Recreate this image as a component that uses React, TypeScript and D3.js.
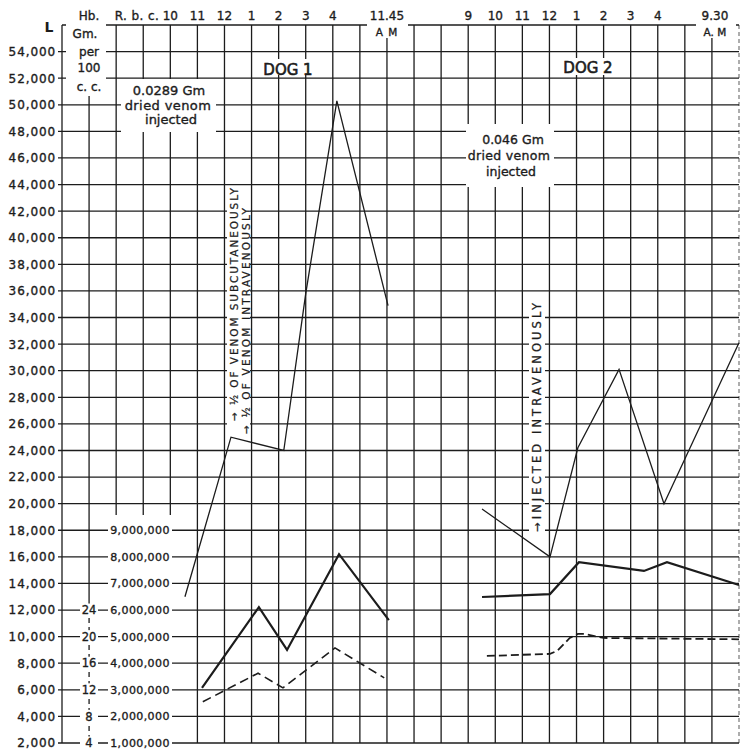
import React from "react";
import * as d3 from "d3";

const W = 740;
const H = 751;

// ---- axis tick values ----
const leukoTicks = [2000, 4000, 6000, 8000, 10000, 12000, 14000, 16000, 18000, 20000, 22000, 24000, 26000, 28000, 30000, 32000, 34000, 36000, 38000, 40000, 42000, 44000, 46000, 48000, 50000, 52000, 54000];
const rbcTicks = [1000000, 2000000, 3000000, 4000000, 5000000, 6000000, 7000000, 8000000, 9000000];
const hbTicks = [4, 8, 12, 16, 20, 24];

// ---- time labels (grid column positions) ----
const dog1Hours = ["10", "11", "12", "1", "2", "3", "4"];
const dog1HourCols = [4, 5, 6, 7, 8, 9, 10];
const dog2Hours = ["9", "10", "11", "12", "1", "2", "3", "4"];
const dog2HourCols = [15, 16, 17, 18, 19, 20, 21, 22];
const nextDayLabels = ["11.45", "9.30"];
const nextDayCols = [12, 24];

// ---- Dog 1 series ----
const dog1LeukoT = [4.54, 6.24, 8.19, 9.0, 10.15, 12.04];
const dog1Leuko = [13000, 25000, 24000, 35800, 50300, 34900];
const dog1RbcT = [5.17, 7.27, 8.31, 10.23, 12.07];
const dog1Rbc = [3070000, 6110000, 4500000, 8100000, 5620000];
const dog1HbT = [5.2, 7.24, 8.16, 10.08, 11.9];
const dog1Hb = [10.2, 14.5, 12.3, 18.3, 13.8];

// ---- Dog 2 series ----
const dog2LeukoT = [15.51, 18.02, 19.05, 20.57, 22.23, 25.0];
const dog2Leuko = [19600, 16000, 24200, 30100, 20000, 32100];
const dog2RbcT = [15.51, 18.02, 19.09, 21.49, 22.34, 25.0];
const dog2Rbc = [6490000, 6600000, 7800000, 7470000, 7800000, 6940000];
const dog2HbT = [15.69, 18.02, 18.3, 18.75, 19.05, 19.3, 20.0, 25.0];
const dog2Hb = [17.1, 17.4, 17.9, 19.8, 20.4, 20.4, 19.8, 19.6];

const FONT = "DejaVu Sans, Verdana, sans-serif";
const INK = "#1c1c1c";

export default function App() {
  const x = d3.scaleLinear().domain([0, 25]).range([62, 739]);
  const y = d3.scaleLinear().domain([2000, 56000]).range([743, 25]);
  const yRbc = d3.scaleLinear().domain([1000000, 9000000]).range([y(2000), y(18000)]);
  const yHb = d3.scaleLinear().domain([4, 24]).range([y(2000), y(12000)]);
  const fmt = d3.format(",");

  const mk = (ts: number[], vs: number[], sc: (v: number) => number) =>
    d3.line<number>().x((_, i) => x(ts[i])).y((v) => sc(v))(vs) || "";

  const cols = d3.range(0, 26);
  const top = y(56000);
  const bottom = y(2000);

  const vLines: JSX.Element[] = [];
  cols.forEach((i) => {
    const xx = x(i);
    if (i === 1) {
      vLines.push(<line key={"v" + i} x1={xx} x2={xx} y1={top} y2={600} />);
      vLines.push(<line key={"vd" + i} x1={xx} x2={xx} y1={600} y2={bottom} strokeDasharray="5,4" />);
    } else if (i >= 2 && i <= 4) {
      vLines.push(<line key={"v" + i} x1={xx} x2={xx} y1={top} y2={515} />);
    } else if (i === 25) {
      vLines.push(<line key={"v" + i} x1={xx} x2={xx} y1={top} y2={bottom} strokeDasharray="4,3" opacity={0.55} />);
    } else {
      vLines.push(<line key={"v" + i} x1={xx} x2={xx} y1={top} y2={bottom} />);
    }
  });

  const textInk = { fill: INK, stroke: INK, strokeWidth: 0.35 };

  return (
    <svg width={W} height={H} style={{ position: "absolute", left: 0, top: 0, background: "#fff" }} fontFamily={FONT}>
      <rect x={0} y={0} width={W} height={H} fill="#fff" />
      {/* grid */}
      <g stroke={INK} strokeWidth={1.3} fill="none">
        {leukoTicks.map((v) => (
          <line key={"h" + v} x1={58} x2={739} y1={y(v)} y2={y(v)} />
        ))}
        <line x1={62} x2={739} y1={top} y2={top} />
        {vLines}
      </g>

      {/* white masks behind labels */}
      <g fill="#fff">
        <rect x={66} y={21} width={40} height={75} />
        <rect x={121} y={79} width={95} height={53} />
        <rect x={466} y={124} width={88} height={63} />
        <rect x={259} y={59} width={58} height={16} />
        <rect x={559} y={58} width={57} height={17} />
        <rect x={367} y={3} width={41} height={35} />
        <rect x={696} y={3} width={40} height={35} />
        <rect x={227} y={186} width={23} height={251} />
        <rect x={529} y={300} width={16} height={236} />
        <rect x={108} y={516} width={64} height={234} />
        {hbTicks.map((v) => (
          <rect key={"hm" + v} x={80} y={yHb(v) - 6.5} width={18} height={13} />
        ))}
      </g>

      {/* left scale labels */}
      <g {...textInk} fontSize={12} textAnchor="end" letterSpacing={0.9}>
        {leukoTicks.map((v) => (
          <text key={"lt" + v} x={56} y={y(v) + 4.4}>
            {fmt(v)}
          </text>
        ))}
      </g>
      <text x={49} y={32} fontSize={14} fontWeight="bold" textAnchor="middle" fill={INK}>
        L
      </text>

      {/* R.b.c. scale */}
      <g {...textInk} fontSize={11} textAnchor="middle" letterSpacing={0.4}>
        {rbcTicks.map((v) => (
          <text key={"rt" + v} x={140} y={yRbc(v) + 4}>
            {fmt(v)}
          </text>
        ))}
      </g>
      {/* Hb scale */}
      <g {...textInk} fontSize={11.5} textAnchor="middle">
        {hbTicks.map((v) => (
          <text key={"ht" + v} x={89} y={yHb(v) + 4.2}>
            {v}
          </text>
        ))}
      </g>

      {/* header */}
      <g {...textInk} fontSize={12} textAnchor="middle">
        <text x={89} y={20}>Hb.</text>
        <text x={137} y={20} letterSpacing={0.4}>R. b. c.</text>
        {dog1Hours.map((h, i) => (
          <text key={"d1h" + i} x={x(dog1HourCols[i])} y={20}>
            {h}
          </text>
        ))}
        {dog2Hours.map((h, i) => (
          <text key={"d2h" + i} x={x(dog2HourCols[i])} y={20}>
            {h}
          </text>
        ))}
        {nextDayLabels.map((h, i) => (
          <text key={"nd" + i} x={x(nextDayCols[i]) + (i === 1 ? 3 : 0)} y={20}>
            {h}
          </text>
        ))}
        <text x={x(12)} y={36} fontSize={10.5} letterSpacing={1}>A  M</text>
        <text x={x(24) + 3} y={36} fontSize={10.5}>A. M</text>
        <text x={85} y={38}>Gm.</text>
        <text x={89} y={56}>per</text>
        <text x={89} y={72}>100</text>
        <text x={89} y={91}>c. c.</text>
      </g>

      {/* annotations */}
      <g {...textInk} textAnchor="middle">
        <text x={288} y={75} fontSize={15} strokeWidth={0.6}>DOG 1</text>
        <text x={588} y={73} fontSize={15} strokeWidth={0.6}>DOG 2</text>
        <g fontSize={13}>
          <text x={169} y={95}>0.0289 Gm</text>
          <text x={168} y={110} letterSpacing={0.4}>dried venom</text>
          <text x={171} y={124}>injected</text>
        </g>
        <g fontSize={12.5}>
          <text x={513} y={144}>0.046 Gm</text>
          <text x={509} y={160} letterSpacing={0.3}>dried venom</text>
          <text x={511} y={176}>injected</text>
        </g>
      </g>
      <g {...textInk} strokeWidth={0.25} fontSize={10.5}>
        <text transform="translate(237.5,421) rotate(-90)" textLength={233} lengthAdjust="spacing">
          → ½ OF VENOM SUBCUTANEOUSLY
        </text>
        <text transform="translate(249.5,434) rotate(-90)" textLength={226} lengthAdjust="spacing">
          → ½ OF VENOM INTRAVENOUSLY
        </text>
        <text transform="translate(541,532) rotate(-90)" fontSize={11.5} textLength={229} lengthAdjust="spacing">
          →INJECTED INTRAVENOUSLY
        </text>
      </g>

      {/* data lines */}
      <g fill="none" stroke={INK} strokeLinejoin="miter">
        <path d={mk(dog1LeukoT, dog1Leuko, y)} strokeWidth={1.3} />
        <path d={mk(dog1RbcT, dog1Rbc, yRbc)} strokeWidth={2.2} />
        <path d={mk(dog1HbT, dog1Hb, yHb)} strokeWidth={1.6} strokeDasharray="9,5" />
        <path d={mk(dog2LeukoT, dog2Leuko, y)} strokeWidth={1.3} />
        <path d={mk(dog2RbcT, dog2Rbc, yRbc)} strokeWidth={2.2} />
        <path d={mk(dog2HbT, dog2Hb, yHb)} strokeWidth={1.8} strokeDasharray="8,4" />
      </g>
    </svg>
  );
}
